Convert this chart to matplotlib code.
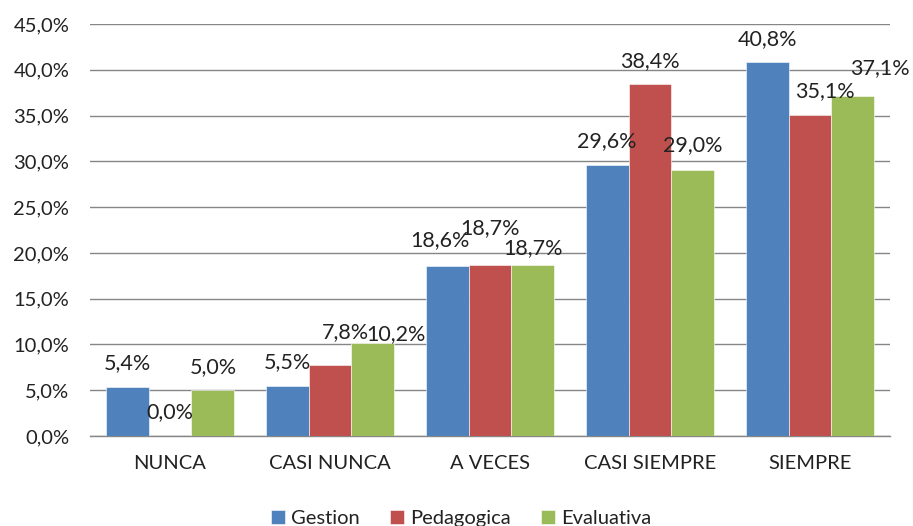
import numpy as np
import matplotlib
matplotlib.use("Agg")
import matplotlib.pyplot as plt
from matplotlib.ticker import FuncFormatter

categories = ["NUNCA", "CASI NUNCA", "A VECES", "CASI SIEMPRE", "SIEMPRE"]
series_names = ["Gestion", "Pedagogica", "Evaluativa"]
gestion = [5.4, 5.5, 18.6, 29.6, 40.8]
pedagogica = [0.0, 7.8, 18.7, 38.4, 35.1]
evaluativa = [5.0, 10.2, 18.7, 29.0, 37.1]
y_ticks = [0, 5, 10, 15, 20, 25, 30, 35, 40, 45]

colors = ["#4F81BD", "#C0504D", "#9BBB59"]
# label nudges in pixels (dx, height of label centre above bar top)
label_offsets = [
    [(0, 23), (0, 24), (-7, 26), (0, 24), (0, 23)],
    [(0, 24), (15, 32), (0, 37), (0, 23), (15, 24)],
    [(0, 23), (23, 9), (0, 17), (0, 25), (27, 28)],
]

plt.rcParams["font.family"] = ["Lato", "DejaVu Sans"]
txt = "#222222"

fig = plt.figure(figsize=(9.13, 5.26), dpi=100)
ax = fig.add_axes([0.0986, 0.1711, 0.8762, 0.7833])

x = np.arange(len(categories))
w = 0.268
for i, (name, vals) in enumerate(zip(series_names, [gestion, pedagogica, evaluativa])):
    pos = x + (i - 1) * w
    ax.bar(pos, vals, width=w, color=colors[i], label=name, zorder=3,
           edgecolor="white", linewidth=0.4)
    for j, v in enumerate(vals):
        dx, dy = label_offsets[i][j]
        ax.annotate(f"{v:.1f}%".replace(".", ","), (pos[j], v),
                    xytext=(dx, dy), textcoords="offset pixels",
                    ha="center", va="center", fontsize=15.5, color=txt, zorder=5)

ax.set_xlim(-0.5, len(categories) - 0.5)
ax.set_ylim(0, 45)
ax.set_yticks(y_ticks)
ax.yaxis.set_major_formatter(FuncFormatter(lambda v, p: f"{v:.1f}%".replace(".", ",")))
ax.set_xticks(x)
ax.set_xticklabels(categories)
ax.grid(axis="y", color="#868686", linewidth=1.0, zorder=0)
for s in ["top", "right", "left"]:
    ax.spines[s].set_visible(False)
ax.spines["bottom"].set_color("#868686")
ax.spines["bottom"].set_linewidth(1.0)
ax.tick_params(axis="y", length=0, pad=15, labelsize=14.5, labelcolor=txt)
ax.tick_params(axis="x", length=0, pad=14, labelsize=14.5, labelcolor=txt)

ax.legend(loc="upper center", bbox_to_anchor=(0.464, -0.135), ncol=3, frameon=False,
          fontsize=14.5, handlelength=0.7, handleheight=0.7, handletextpad=0.3,
          columnspacing=1.5, labelcolor=txt)

fig.savefig("out.png", dpi=100)
